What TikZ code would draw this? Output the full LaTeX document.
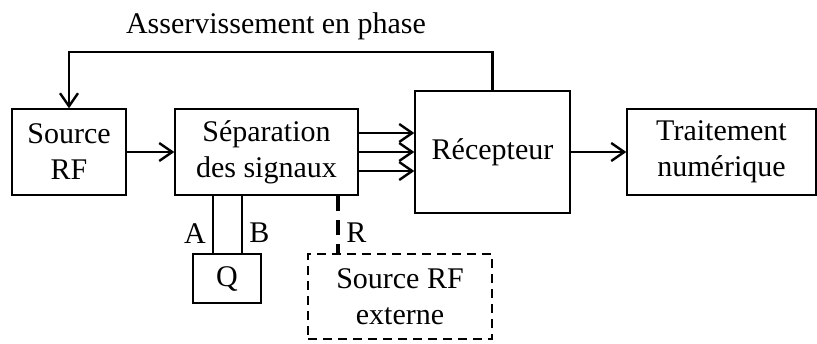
\documentclass[tikz,border=0pt]{standalone}
\usepackage{fontspec}
\setmainfont{Liberation Serif}
\usetikzlibrary{arrows.meta, positioning, calc}
\tikzset{
    % Boxes - plain rectangles
    block/.style={
        rectangle,
        draw=black,
        fill=white,
        line width=0.7pt,
        align=center,
        inner sep=0pt
    },
    extblock/.style={
        block,
        line width=1.2pt,
        dash pattern=on 4.5pt off 3pt
    },
    % Connectors
    arrow/.style={
        -{Straight Barb[length=6.5pt,width=9pt]},
        line width=1.2pt,
        draw=black
    },
    link/.style={
        line width=0.6pt,
        draw=black
    },
    reflink/.style={
        line width=1.7pt,
        draw=black,
        dash pattern=on 7.5pt off 4.5pt
    }
}

\begin{document}
\begin{tikzpicture}[x=0.5pt, y=-0.5pt, font=\fontsize{15}{18}\selectfont]
    \useasboundingbox (0,0) rectangle (817,343);

    \node (title) at (276,26) {Asservissement en phase};

    \node[block, minimum width=57pt, minimum height=43pt] (src) at (69,152) {Source\\RF};
    \node[block, minimum width=91.5pt, minimum height=43pt] (sep) at (266.5,152) {Séparation\\des signaux};
    \node[block, minimum width=77.5pt, minimum height=61pt] (rec) at (492.5,152) {Récepteur};
    \node[block, minimum width=94.5pt, minimum height=43pt] (trt) at (721.5,152) {Traitement\\numérique};

    \node[block, minimum width=34pt, minimum height=24.5pt] (q) at (227,278.5) {Q};
    \node[extblock, minimum width=92pt, minimum height=42.5pt] (ext) at (400,296.5) {Source RF\\externe};

    % phase feedback loop
    \coordinate (fb) at (280,52);
    \draw[arrow] (rec.north) |- (fb) -| (src.north);

    \draw[arrow] (src) -- (sep);
    \foreach \dy in {9.5pt,0pt,-9.5pt}
        \draw[arrow] ([yshift=\dy]sep.east) -- ([yshift=\dy]rec.west);
    \draw[arrow] (rec) -- (trt);

    \draw[link] ([xshift=-7pt]q.north |- sep.south) -- ([xshift=-7pt]q.north) node[pos=0.65, left] {A};
    \draw[link] ([xshift=7.5pt]q.north |- sep.south) -- ([xshift=7.5pt]q.north) node[pos=0.65, right] {B};
    \draw[reflink] ([xshift=-31pt]ext.north |- sep.south) -- ([xshift=-31pt]ext.north) node[pos=0.65, right] {R};
\end{tikzpicture}
\end{document}
